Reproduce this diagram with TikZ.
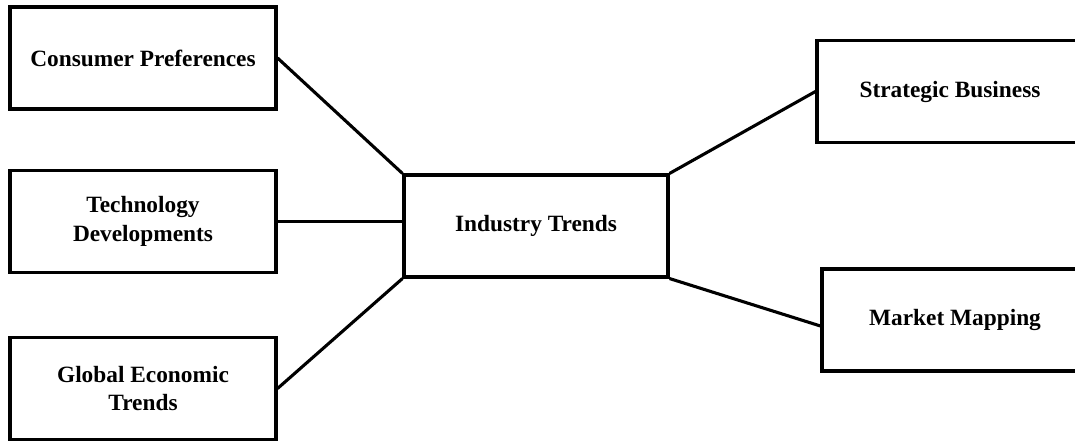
\documentclass[tikz,border=0pt]{standalone}
\usepackage{fontspec}
\setmainfont{Liberation Serif}
\usetikzlibrary{positioning}

\begin{document}
\begin{tikzpicture}[
    line width=2.2pt,
    % --- box styles ---
    box/.style={draw, minimum width=6.65cm, minimum height=2.55cm,
                align=center, inner sep=3pt, line width=2.2pt,
                font=\fontsize{16.6}{20.6}\selectfont\bfseries},
    hub/.style={box, minimum width=6.6cm},
    % --- connector style ---
    link/.style={line width=2.2pt},
]

%% page frame; the right-hand boxes run past its edge
\useasboundingbox (0,0) rectangle (26.875,11.05);
\clip (0,0) rectangle (26.875,11.05);

%% ---- LEFT COLUMN: drivers ----
\node[box] (cons) at (3.575, 9.60)   {Consumer Preferences};
\node[box] (tech) at (3.575, 5.5125) {Technology\\Developments};
\node[box] (glob) at (3.575, 1.3375) {Global Economic\\Trends};

%% ---- CENTRE ----
\node[hub] (ind) at (13.40, 5.40) {Industry Trends};

%% ---- RIGHT COLUMN: outcomes ----
\node[box] (strat) at (23.75, 8.7625) {Strategic Business};
\node[box] (mkt)   at (23.875, 3.05)  {Market Mapping};

%% ---- CONNECTORS ----
\draw[link] (cons.east) -- (ind.north west);
\draw[link] (tech.east) -- (tech.east -| ind.west);
\draw[link] (glob.east) -- (ind.south west);
\draw[link] (ind.north east) -- (strat.west);
\draw[link] (ind.south east) -- ([yshift=-0.15cm]mkt.west);

\end{tikzpicture}
\end{document}
